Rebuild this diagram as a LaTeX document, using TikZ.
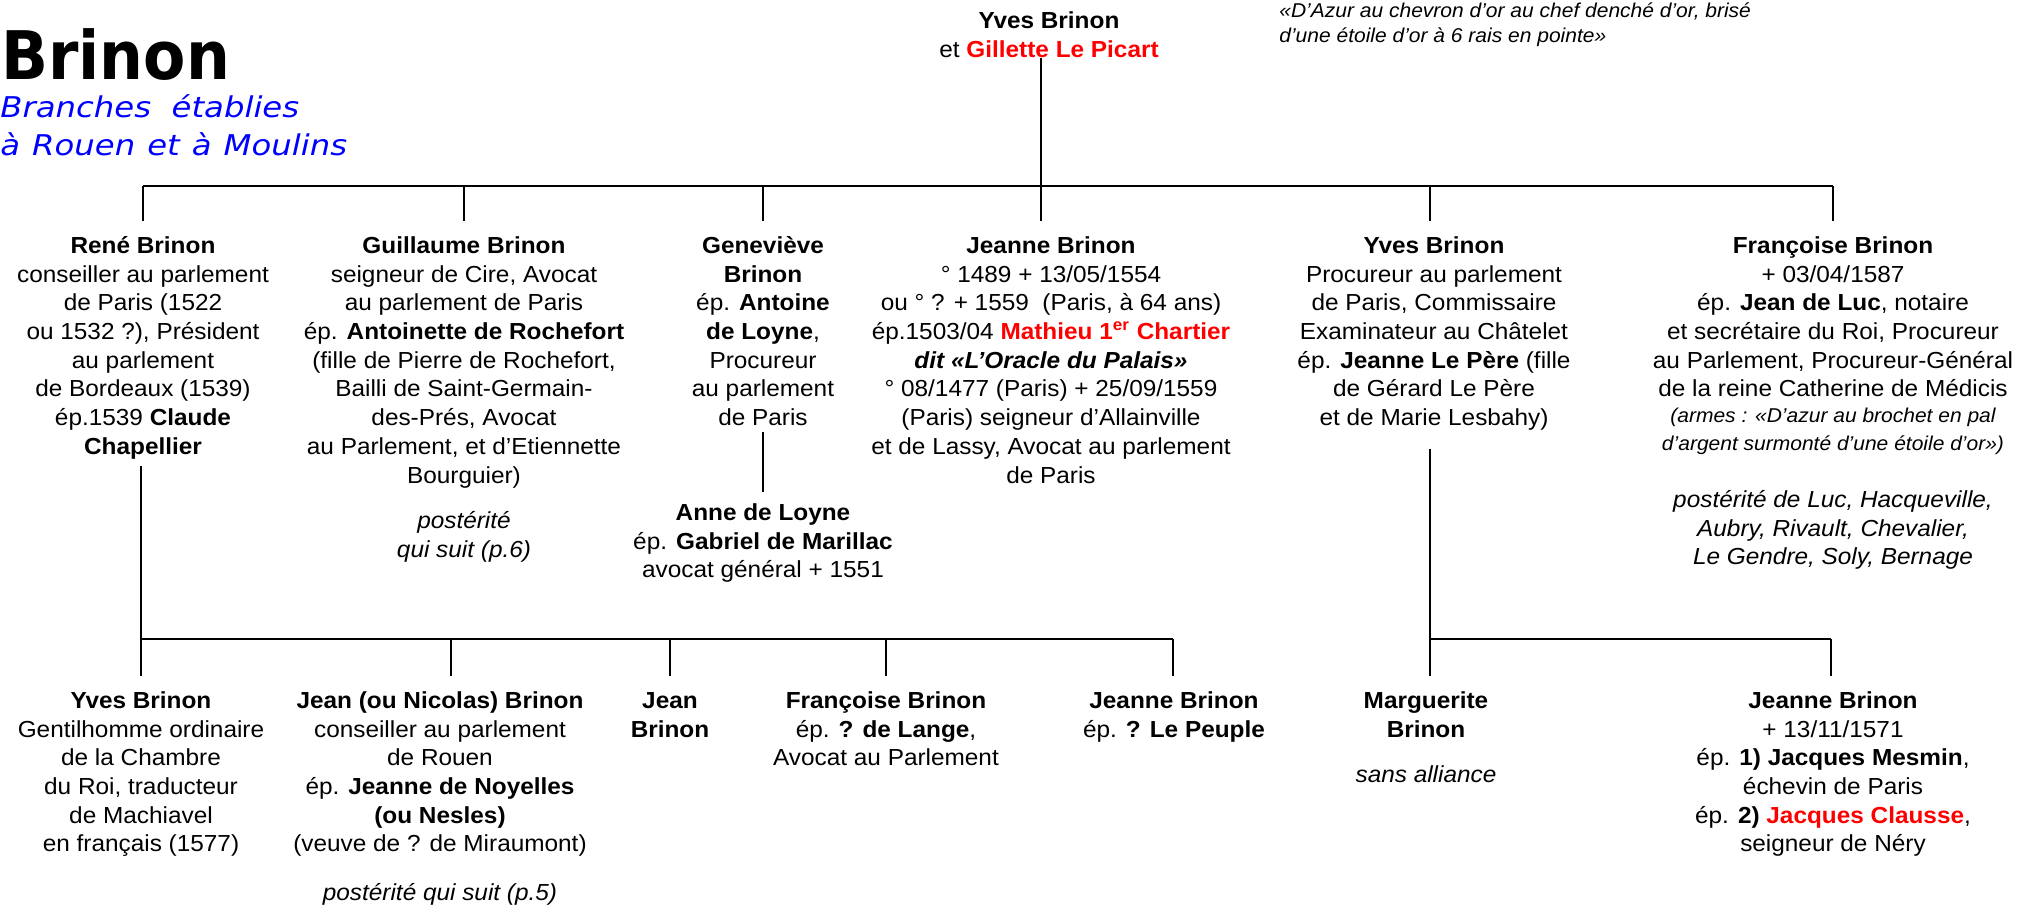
\documentclass[tikz,border=0pt]{standalone}
\usepackage{fontspec}
\setmainfont{Liberation Sans}[FakeStretch=1.05]
\newfontfamily\titlefont{DejaVu Sans}[FakeStretch=0.92]
\newfontfamily\subfont{DejaVu Sans}[FakeStretch=1.13]
\definecolor{myred}{RGB}{255,0,0}
\definecolor{myblue}{RGB}{0,0,255}
\newcommand\bodyfont{\fontsize{11.6}{14.35}\selectfont}
\newcommand\fl{\rule{0pt}{10pt}}
\newcommand\nm[1]{\textbf{#1}}
\newcommand\wsp{\hspace{0.42em}}
\begin{document}
\begin{tikzpicture}[x=0.5pt,y=-0.5pt,
  pers/.style={anchor=north, align=center, inner sep=0pt, font=\bodyfont},
  note/.style={pers, font=\bodyfont\itshape},
  link/.style={line width=1.1pt, black},
  tick/.style={link, shorten >=6pt}]
\useasboundingbox (0,0) rectangle (2036,907);
% title
\node (title) [anchor=base west, inner sep=0pt, font=\titlefont\bfseries\fontsize{33.5}{38}\selectfont] at (1,79) {Brinon};
\node (sub) [anchor=north west, align=left, inner sep=0pt, text=myblue,
  font=\subfont\itshape\fontsize{14.3}{19}\selectfont] at (0,94)
  {\fl Branches\ \ établies\\ à\wsp Rouen\wsp et\wsp à\wsp Moulins};
\node (motto) [anchor=north west, align=left, inner sep=0pt,
  font=\fontsize{10}{12.5}\selectfont\itshape] at (1279,-3)
  {\fl «D’Azur au chevron d’or au chef denché d’or, brisé\\ d’une étoile d’or à 6 rais en pointe»};
% top couple
\node (top) [pers] at (1049,8) {\fl\nm{Yves Brinon}\\ et \textcolor{myred}{\nm{Gillette Le Picart}}};
% row 1
\node (rene) [pers] at (143,233) {\fl\nm{René Brinon}\\ conseiller au parlement\\ de Paris (1522\\ ou 1532 ?), Président\\ au parlement\\ de Bordeaux (1539)\\ ép.1539 \nm{Claude}\\ \nm{Chapellier}};
\node (guil) [pers] at (464,233) {\fl\nm{Guillaume Brinon}\\ seigneur de Cire, Avocat\\ au parlement de Paris\\ ép. \nm{Antoinette de Rochefort}\\ (fille de Pierre de Rochefort,\\ Bailli de Saint-Germain-\\ des-Prés, Avocat\\ au Parlement, et d’Etiennette\\ Bourguier)};
\node (guilpost) [note] at (464,508) {\fl postérité\\ qui suit (p.6)};
\node (gene) [pers] at (763,233) {\fl\nm{Geneviève}\\ \nm{Brinon}\\ ép. \nm{Antoine}\\ \nm{de Loyne},\\ Procureur\\ au parlement\\ de Paris};
\node (anne) [pers] at (763,500) {\fl\nm{Anne de Loyne}\\ ép. \nm{Gabriel de Marillac}\\ avocat général + 1551};
\node (jeanne) [pers] at (1051,233) {\fl\nm{Jeanne Brinon}\\ ° 1489 + 13/05/1554\\ ou ° ? + 1559\ \ (Paris, à 64 ans)\\ ép.1503/04 \textcolor{myred}{\nm{Mathieu 1\textsuperscript{er} Chartier}}\\ \textbf{\textit{dit «L’Oracle du Palais»}}\\ ° 08/1477 (Paris) + 25/09/1559\\ (Paris) seigneur d’Allainville\\ et de Lassy, Avocat au parlement\\ de Paris};
\node (yves) [pers] at (1434,233) {\fl\nm{Yves Brinon}\\ Procureur au parlement\\ de Paris, Commissaire\\ Examinateur au Châtelet\\ ép. \nm{Jeanne Le Père} (fille\\ de Gérard Le Père\\ et de Marie Lesbahy)};
\node (franc) [pers] at (1833,233) {\fl\nm{Françoise Brinon}\\ + 03/04/1587\\ ép. \nm{Jean de Luc}, notaire\\ et secrétaire du Roi, Procureur\\ au Parlement, Procureur-Général\\ de la reine Catherine de Médicis};
\node (armes) [pers, font=\fontsize{10}{14.1}\selectfont\itshape] at (1833,402) {\fl (armes : «D’azur au brochet en pal\\ d’argent surmonté d’une étoile d’or»)};
\node (francpost) [note] at (1833,487) {\fl postérité de Luc, Hacqueville,\\ Aubry, Rivault, Chevalier,\\ Le Gendre, Soly, Bernage};
% row 2
\node (yves2) [pers] at (141,688) {\fl\nm{Yves Brinon}\\ Gentilhomme ordinaire\\ de la Chambre\\ du Roi, traducteur\\ de Machiavel\\ en français (1577)};
\node (jean) [pers] at (440,688) {\fl\nm{Jean (ou Nicolas) Brinon}\\ conseiller au parlement\\ de Rouen\\ ép. \nm{Jeanne de Noyelles}\\ \nm{(ou Nesles)}\\ (veuve de ? de Miraumont)};
\node (jeanpost) [note] at (440,880) {\fl postérité qui suit (p.5)};
\node (jeanb) [pers] at (670,688) {\fl\nm{Jean}\\ \nm{Brinon}};
\node (franc2) [pers] at (886,688) {\fl\nm{Françoise Brinon}\\ ép. \nm{? de Lange},\\ Avocat au Parlement};
\node (jeanne2) [pers] at (1174,688) {\fl\nm{Jeanne Brinon}\\ ép. \nm{? Le Peuple}};
\node (marg) [pers] at (1426,688) {\fl\nm{Marguerite}\\ \nm{Brinon}};
\node (margsans) [note] at (1426,762) {\fl sans alliance};
\node (jeanne3) [pers] at (1833,688) {\fl\nm{Jeanne Brinon}\\ + 13/11/1571\\ ép. \nm{1) Jacques Mesmin},\\ échevin de Paris\\ ép. \nm{2) \textcolor{myred}{Jacques Clausse}},\\ seigneur de Néry};
% junctions
\coordinate (main) at (1041,186);
\coordinate (b1L) at (143,186);
\coordinate (b1R) at (1833,186);
\coordinate (b2L) at (141,639);
\coordinate (b2R) at (1173,639);
\coordinate (b3L) at (1430,639);
\coordinate (b3R) at (1831,639);
% connectors
\draw[link] (top.south -| main) -- (main);
\draw[link] (b1L) -- (b1R);
\draw[tick] (b1L) -- (rene.north -| b1L);
\draw[tick] (guil.north |- b1L) -- (guil.north);
\draw[tick] (gene.north |- b1L) -- (gene.north);
\draw[tick] (main) -- (jeanne.north -| main);
\draw[tick] (1430,186) -- (yves.north -| b3L);
\draw[tick] (b1R) -- (franc.north -| b1R);
\draw[link, shorten <=3pt, shorten >=4pt] (gene.south) -- (anne.north);
\draw[link, shorten <=3pt] (rene.south -| b2L) -- (b2L);
\draw[link] (b2L) -- (b2R);
\draw[tick] (b2L) -- (yves2.north -| b2L);
\draw[tick] (jean.north |- b2L) ++(11,0) -- ([xshift=5.5pt]jean.north);
\draw[tick] (jeanb.north |- b2L) -- (jeanb.north);
\draw[tick] (franc2.north |- b2L) -- (franc2.north);
\draw[tick] (b2R) -- (jeanne2.north -| b2R);
\draw[link, shorten <=9pt] (yves.south -| b3L) -- (b3L);
\draw[link] (b3L) -- (b3R);
\draw[tick] (b3L) -- (marg.north -| b3L);
\draw[tick] (b3R) -- (jeanne3.north -| b3R);
\end{tikzpicture}
\end{document}
